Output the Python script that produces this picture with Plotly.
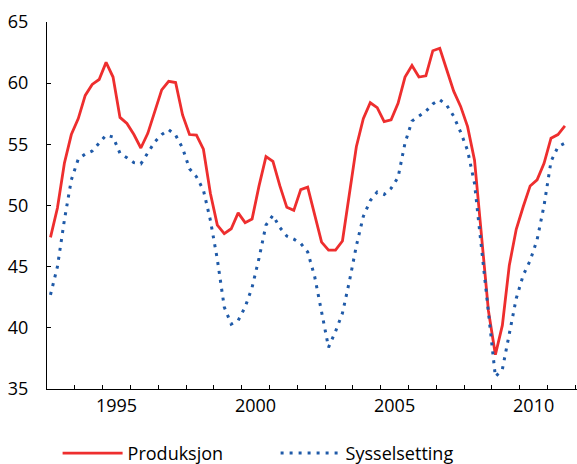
import plotly.graph_objects as go

start_year = 1993
produksjon = [47.4, 49.8, 53.45, 55.8, 57.1, 59.0, 59.9, 60.3, 61.7, 60.5,
              57.2, 56.7, 55.8, 54.7, 55.9, 57.75, 59.45, 60.15, 60.05, 57.4,
              55.8, 55.75, 54.6, 51.0, 48.4, 47.7, 48.1, 49.4, 48.6, 48.9,
              51.6, 54.0, 53.6, 51.6, 49.85, 49.6, 51.3, 51.5, 49.35, 47.0,
              46.35, 46.35, 47.1, 51.0, 54.8, 57.1, 58.4, 58.0, 56.85, 57.0,
              58.35, 60.5, 61.45, 60.5, 60.6, 62.65, 62.85, 61.1, 59.35, 58.1,
              56.45, 53.7, 47.8, 41.4, 37.8, 40.2, 45.1, 48.05, 49.9, 51.6,
              52.1, 53.45, 55.5, 55.8, 56.5]
sysselsetting = [42.7, 45.0, 48.8, 52.1, 53.8, 54.2, 54.45, 55.1, 55.76, 55.6,
                 54.26, 53.9, 53.5, 53.4, 54.3, 55.2, 55.8, 56.2, 55.75, 54.7,
                 53.0, 52.35, 51.26, 48.8, 45.6, 41.7, 40.3, 40.6, 41.7, 43.3,
                 45.7, 48.4, 49.2, 48.2, 47.5, 47.25, 46.9, 46.2, 44.2, 41.3,
                 38.4, 39.7, 41.2, 43.8, 46.7, 49.1, 50.4, 51.1, 50.9, 51.4,
                 52.3, 55.1, 56.9, 57.3, 57.7, 58.3, 58.65, 58.2, 57.3, 56.0,
                 54.5, 51.8, 46.5, 41.0, 36.0, 36.6, 39.5, 42.4, 44.3, 45.5,
                 47.2, 50.0, 53.6, 54.8, 55.1]
year_labels = ["1995", "2000", "2005", "2010"]
y_ticks = [35, 40, 45, 50, 55, 60, 65]

# quarterly points placed mid-quarter
x = [start_year + (i + 0.5) / 4 for i in range(len(produksjon))]

FONT = "Open Sans"
RED = "#ee2e2e"
BLUE = "#1f5aa8"

fig = go.Figure()
fig.add_trace(go.Scatter(x=x, y=produksjon, mode="lines", name="Produksjon",
                         line=dict(color=RED, width=2.8)))
fig.add_trace(go.Scatter(x=x, y=sysselsetting, mode="lines", name="Sysselsetting",
                         line=dict(color=BLUE, width=3, dash="3px,6px")))
# invisible helper for label axis
fig.add_trace(go.Scatter(x=[start_year], y=[35], xaxis="x2", mode="markers",
                         marker=dict(opacity=0), showlegend=False, hoverinfo="skip"))

xr = [1993, 2012.06]
fig.update_layout(
    width=577, height=464,
    margin=dict(l=47, r=0, t=22, b=75, autoexpand=False),
    paper_bgcolor="white", plot_bgcolor="white",
    font=dict(family=FONT, size=18, color="black"),
    showlegend=True,
    legend=dict(orientation="h", x=0.02, xanchor="left", y=-0.125, yanchor="top",
                font=dict(size=18), entrywidth=143, entrywidthmode="pixels",
                itemwidth=60, tracegroupgap=0),
    xaxis=dict(range=xr, tickmode="array",
               tickvals=list(range(1993, 2013)), ticktext=[""] * 20,
               ticks="inside", ticklen=4, tickcolor="black", tickwidth=1,
               showline=True, linecolor="black", linewidth=1.3,
               showgrid=False, zeroline=False, fixedrange=True),
    xaxis2=dict(range=xr, overlaying="x", side="bottom", tickmode="array",
                tickvals=[int(v) + 0.5 for v in year_labels], ticktext=year_labels,
                ticks="", showline=False, showgrid=False, zeroline=False,
                tickfont=dict(size=18), ticklabelstandoff=4),
    yaxis=dict(range=[35, 65], tickmode="array", tickvals=y_ticks,
               ticks="inside", ticklen=4, tickcolor="black", tickwidth=1,
               showline=True, linecolor="black", linewidth=1.3,
               showgrid=False, zeroline=False, tickfont=dict(size=18),
               ticklabelstandoff=14),
)

fig.write_html("out.html", config={"displayModeBar": False},
               post_script="document.body.style.margin='0';")
